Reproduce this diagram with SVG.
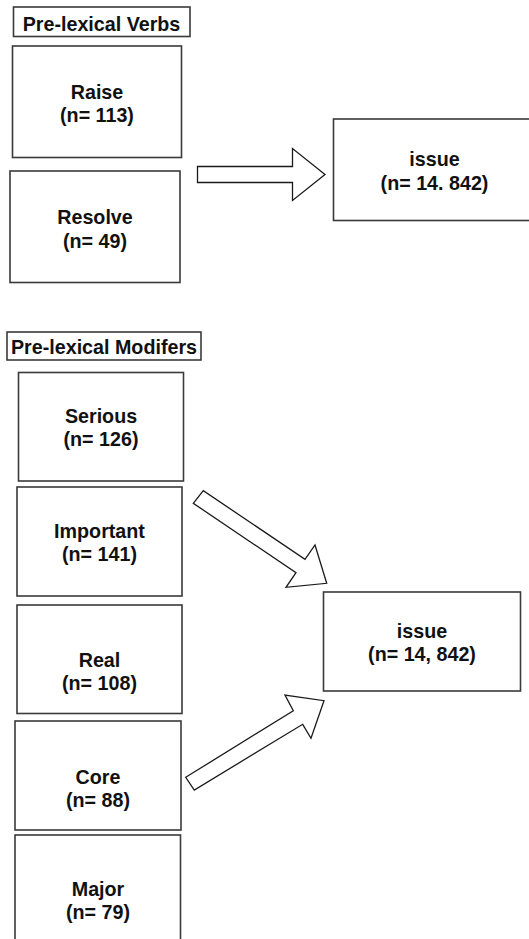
<svg xmlns="http://www.w3.org/2000/svg" width="529" height="939" viewBox="0 0 529 939">
  <style>
    .box { fill: #ffffff; stroke: #3a3a3a; stroke-width: 1.6; }
    .lbl { font-family: "Liberation Sans", Arial, Helvetica, sans-serif; font-weight: bold; font-size: 19.7px; fill: #111111; text-anchor: middle; }
    .arrow { fill: #ffffff; stroke: #1a1a1a; stroke-width: 1.3; stroke-linejoin: miter; }
  </style>
  <rect width="529" height="939" fill="#ffffff"/>

  <!-- Verb section -->
  <g id="title-verbs">
    <rect class="box" x="13.5" y="7" width="176.5" height="29.5"/>
    <text class="lbl" x="101.5" y="30.5">Pre-lexical Verbs</text>
  </g>
  <g id="node-raise">
    <rect class="box" x="12.5" y="46" width="169" height="111.5"/>
    <text class="lbl" x="97" y="98.5">Raise</text>
    <text class="lbl" x="97" y="121.5">(n= 113)</text>
  </g>
  <g id="node-resolve">
    <rect class="box" x="10" y="171" width="170" height="111.5"/>
    <text class="lbl" x="95" y="223.5">Resolve</text>
    <text class="lbl" x="95" y="247.5">(n= 49)</text>
  </g>
  <g id="node-issue-verbs">
    <rect class="box" x="333.5" y="119" width="202" height="101.5"/>
    <text class="lbl" x="434.5" y="165.5">issue</text>
    <text class="lbl" x="434.5" y="189.5">(n= 14. 842)</text>
  </g>

  <!-- Modifier section -->
  <g id="title-modifiers">
    <rect class="box" x="7" y="332" width="194" height="28"/>
    <text class="lbl" x="104" y="354">Pre-lexical Modifers</text>
  </g>
  <g id="node-serious">
    <rect class="box" x="18.5" y="372.5" width="165" height="108.5"/>
    <text class="lbl" x="101" y="422.5">Serious</text>
    <text class="lbl" x="101" y="445.5">(n= 126)</text>
  </g>
  <g id="node-important">
    <rect class="box" x="17" y="487" width="165" height="109"/>
    <text class="lbl" x="99.5" y="537.5">Important</text>
    <text class="lbl" x="99.5" y="560.5">(n= 141)</text>
  </g>
  <g id="node-real">
    <rect class="box" x="17" y="605" width="165" height="108.5"/>
    <text class="lbl" x="99.5" y="666.5">Real</text>
    <text class="lbl" x="99.5" y="690">(n= 108)</text>
  </g>
  <g id="node-core">
    <rect class="box" x="15" y="721" width="166" height="109"/>
    <text class="lbl" x="98" y="783.5">Core</text>
    <text class="lbl" x="98" y="806.5">(n= 88)</text>
  </g>
  <g id="node-major">
    <rect class="box" x="15" y="835" width="165.5" height="120"/>
    <text class="lbl" x="98" y="895.5">Major</text>
    <text class="lbl" x="98" y="919">(n= 79)</text>
  </g>
  <g id="node-issue-modifiers">
    <rect class="box" x="323.5" y="592" width="197" height="99"/>
    <text class="lbl" x="422" y="637.5">issue</text>
    <text class="lbl" x="422" y="660.5">(n= 14, 842)</text>
  </g>

  <!-- Block arrows -->
  <g id="connectors">
    <polygon class="arrow" points="197.5,166.5 292.5,166.5 292.5,148.5 325,174.5 292.5,200.5 292.5,182.5 197.5,182.5"/>
    <polygon class="arrow" points="193.3,503.3 203.3,490.7 305,559.3 315,545 326.7,583.3 286,587.3 296,572.7"/>
    <polygon class="arrow" points="185.7,777.3 293.3,710.7 285,695 324,700.7 311,738.3 302.7,724.3 194.3,790"/>
  </g>
</svg>
